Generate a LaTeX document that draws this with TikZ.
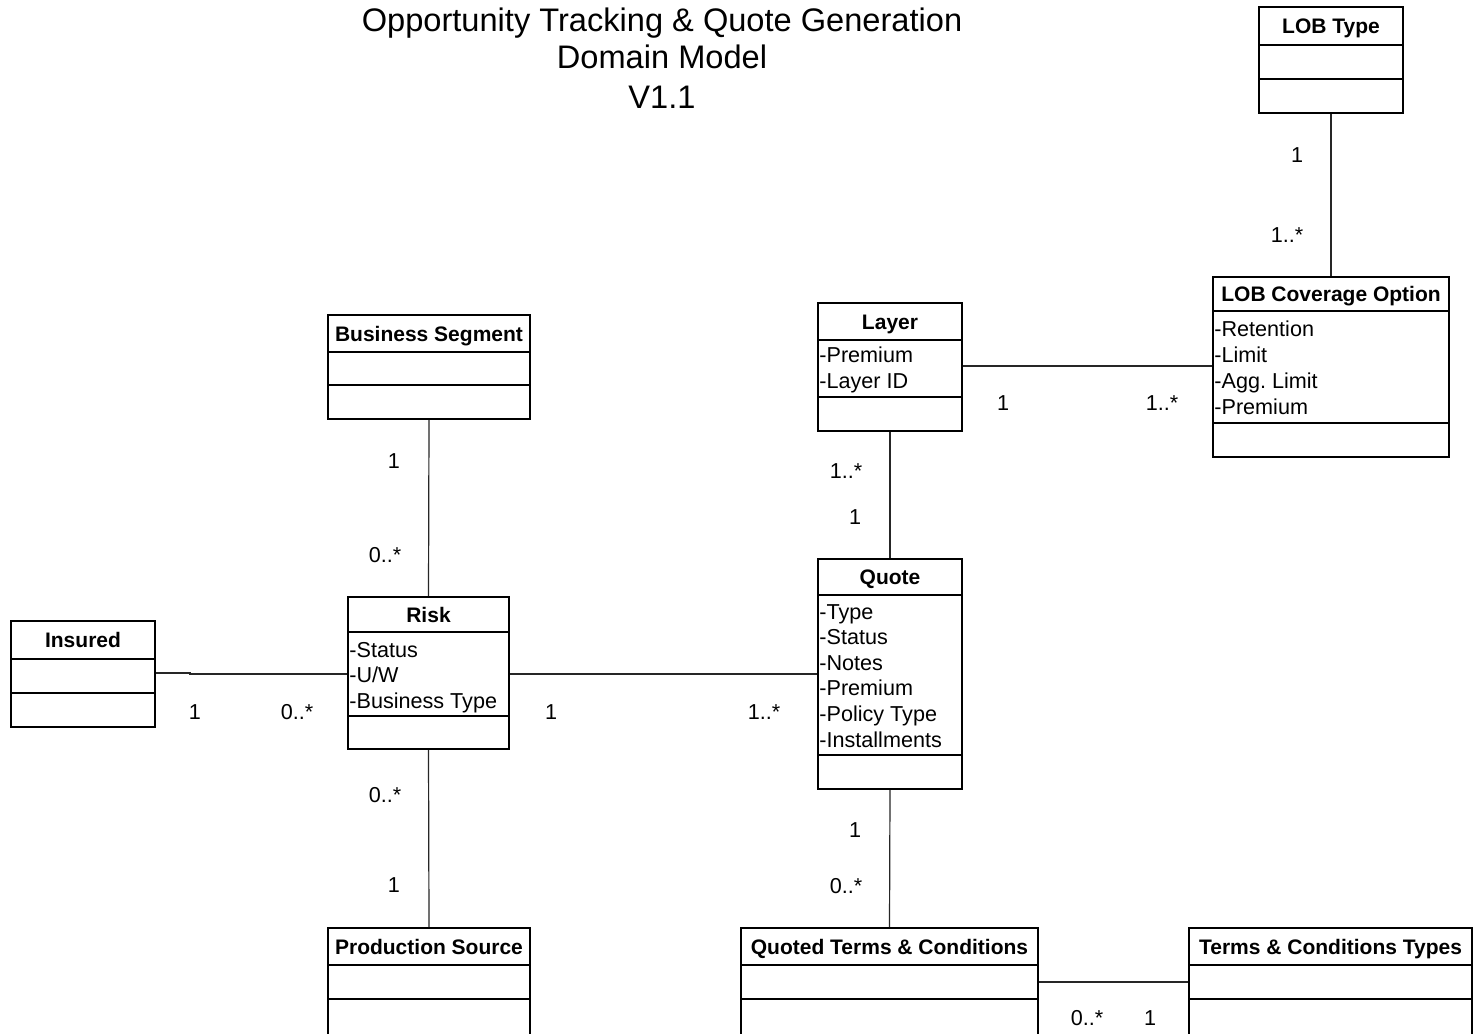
\documentclass[tikz,border=0pt]{standalone}
\usepackage{fontspec}
\setmainfont{Liberation Sans}
\usetikzlibrary{fit}
\frenchspacing
\begin{document}
\begin{tikzpicture}[x=0.5pt,y=-0.5pt,
  classbox/.style={draw, line width=1pt, inner sep=0pt},
  divider/.style={line width=1pt},
  assoc/.style={line width=0.6pt, draw=black!85},
  lbl/.style={font=\fontsize{10.8}{13}\selectfont, inner sep=0pt, text height=7.7pt, text depth=0pt},
  cname/.style={lbl, font=\fontsize{10.5}{13}\selectfont\bfseries},
  attr/.style={lbl, anchor=west},
  mult/.style={lbl},
  heading/.style={font=\fontsize{16.3}{19}\selectfont, inner sep=0pt, text height=11.7pt, text depth=0pt},
]
% UML class box: name, x1, y1, x2, y2, first divider, second divider, class name
\newcommand\umlclass[8]{%
  \node[classbox, fit={(#2,#3) (#4,#5)}] (#1) {};
  \draw[divider] (#2,#6) -- (#4,#6) (#2,#7) -- (#4,#7);
  \node[cname] (#1-name) at ({(#2+#4)/2},{(#3+#6)/2}) {#8};
}
\clip (0,0) rectangle (1476,1033);
\fill[white] (0,0) rectangle (1476,1033);

% heading
\node[heading] (title1) at (662,20) {Opportunity Tracking \& Quote Generation};
\node[heading] (title2) at (662,57) {Domain Model};
\node[heading] (title3) at (662,97) {V1.1};

% classes
\umlclass{lobtype}{1259}{7}{1403}{113}{45}{79}{LOB Type}
\umlclass{lobcov}{1213}{277}{1449}{457}{311}{423}{LOB Coverage Option}
\umlclass{layer}{818}{303}{962}{431}{340}{397}{Layer}
\umlclass{bizseg}{328}{315}{530}{419}{352}{385}{Business Segment}
\umlclass{quote}{818}{559}{962}{789}{595}{755}{Quote}
\umlclass{risk}{348}{597}{509}{749}{632}{716}{Risk}
\umlclass{insured}{11}{621}{155}{727}{659}{693}{Insured}
\umlclass{prodsrc}{328}{928}{530}{1045}{965}{999}{Production Source}
\umlclass{qtc}{741}{928}{1038}{1045}{965}{999}{Quoted Terms \& Conditions}
\umlclass{tctypes}{1189}{928}{1472}{1045}{965}{999}{Terms \& Conditions Types}

% attributes
\node[attr] (lobcov-a1) at (1214,329) {-Retention};
\node[attr] (lobcov-a2) at (1214,355) {-Limit};
\node[attr] (lobcov-a3) at (1214,381) {-Agg.\ Limit};
\node[attr] (lobcov-a4) at (1214,407) {-Premium};

\node[attr] (layer-a1) at (819,355) {-Premium};
\node[attr] (layer-a2) at (819,381) {-Layer ID};

\node[attr] (quote-a1) at (819,612) {-Type};
\node[attr] (quote-a2) at (819,637) {-Status};
\node[attr] (quote-a3) at (819,663) {-Notes};
\node[attr] (quote-a4) at (819,688) {-Premium};
\node[attr] (quote-a5) at (819,714) {-Policy Type};
\node[attr] (quote-a6) at (819,740) {-Installments};

\node[attr] (risk-a1) at (349,650) {-Status};
\node[attr] (risk-a2) at (349,675) {-U/W};
\node[attr] (risk-a3) at (349,701) {-Business Type};

% associations
\draw[assoc] (lobtype.south) -- (lobcov.north);
\draw[assoc] (layer.east |- 0,366) -- (lobcov.west |- 0,366);
\draw[assoc] (layer.south) -- (quote.north);
\draw[assoc] (bizseg.south) -- (risk.north);
\draw[assoc] (insured.east |- 0,673) -- (190,673) -- (190,674) -- (risk.west |- 0,674);
\draw[assoc] (risk.east |- 0,674) -- (quote.west |- 0,674);
\draw[assoc] (risk.south) -- (prodsrc.north);
\draw[assoc] (quote.south) -- (qtc.north);
\draw[assoc] (qtc.east |- 0,982) -- (tctypes.west |- 0,982);

% multiplicities
\node[mult] (m1) at (1297,155) {1};
\node[mult] (m2) at (1287,235) {1..*};
\node[mult] (m3) at (1003,403) {1};
\node[mult] (m4) at (1162,403) {1..*};
\node[mult] (m5) at (846,471) {1..*};
\node[mult] (m6) at (855,517) {1};
\node[mult] (m7) at (394,461) {1};
\node[mult] (m8) at (385,555) {0..*};
\node[mult] (m9) at (195,712) {1};
\node[mult] (m10) at (297,712) {0..*};
\node[mult] (m11) at (551,712) {1};
\node[mult] (m12) at (764,712) {1..*};
\node[mult] (m13) at (385,795) {0..*};
\node[mult] (m14) at (394,885) {1};
\node[mult] (m15) at (855,830) {1};
\node[mult] (m16) at (846,886) {0..*};
\node[mult] (m17) at (1087,1018) {0..*};
\node[mult] (m18) at (1150,1018) {1};
\end{tikzpicture}
\end{document}
